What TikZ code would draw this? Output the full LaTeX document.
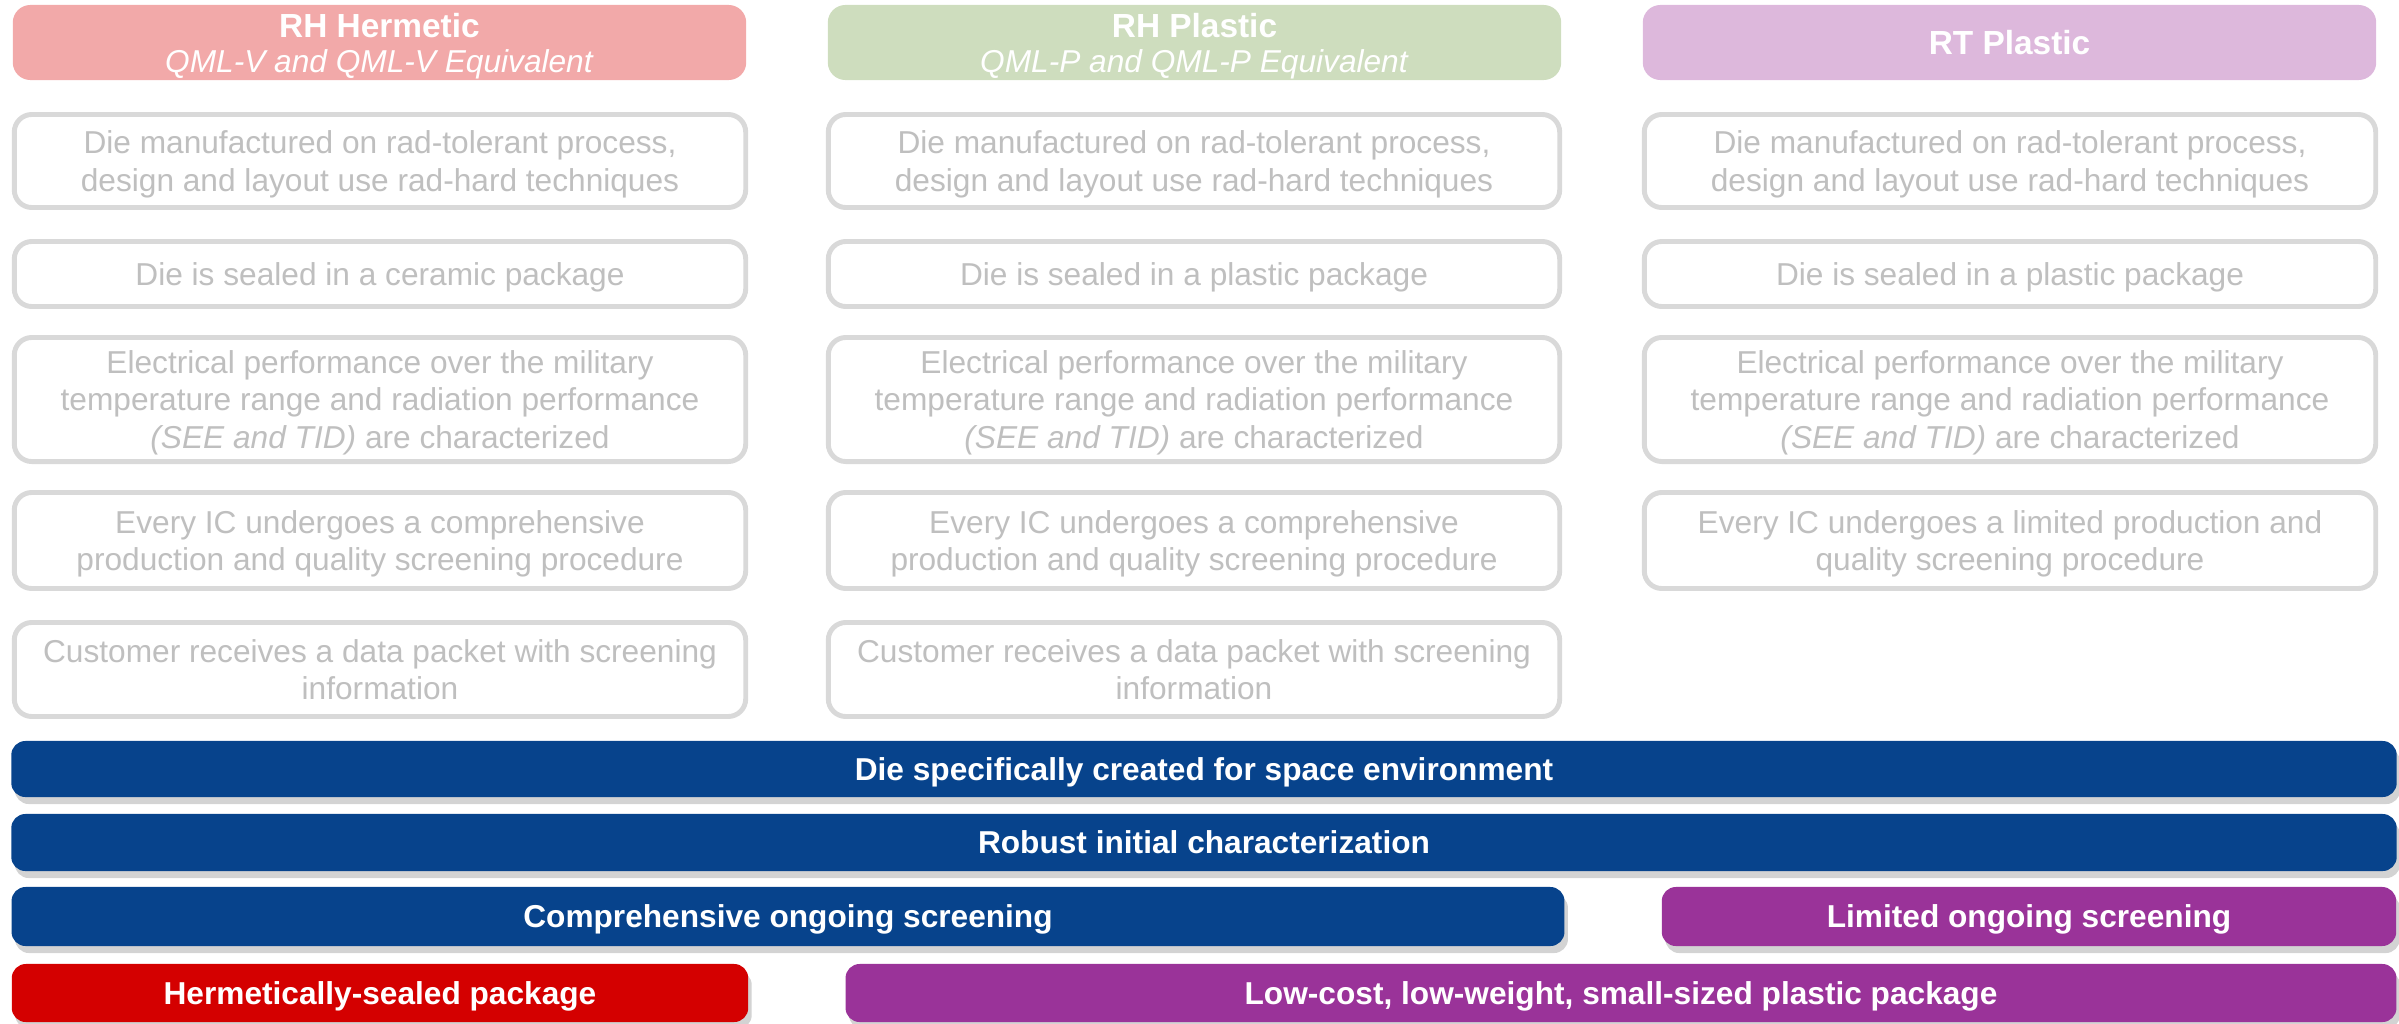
\documentclass[tikz,border=0pt]{standalone}
\usepackage{fontspec}
\setmainfont{Liberation Sans}
\usetikzlibrary{shadows}
\definecolor{hermred}{HTML}{F2A9A9}
\definecolor{plasgreen}{HTML}{CEDDBE}
\definecolor{rtpink}{HTML}{DDB8DC}
\definecolor{boxgray}{HTML}{D9D9D9}
\definecolor{txtgray}{HTML}{BFBFBF}
\definecolor{spaceblue}{HTML}{07438C}
\definecolor{sealred}{HTML}{D40000}
\definecolor{limpurple}{HTML}{9A3399}

\begin{document}
\begin{tikzpicture}[x=0.01cm, y=-0.01cm]
 \tikzstyle{heading}=[rectangle, rounded corners=5pt, text=white, align=center, inner sep=0pt, text depth=0pt, minimum width=7.33cm, minimum height=0.75cm, font=\fontsize{9}{10}\selectfont]
 \tikzstyle{trait}=[rectangle, rounded corners=5pt, draw=boxgray, line width=1.4pt, fill=white, text=txtgray, align=center, inner sep=0pt, text depth=0pt, minimum width=7.31cm, font=\fontsize{9}{10.6}\selectfont]
 \tikzstyle{band}=[rectangle, rounded corners=4pt, text=white, align=center, inner sep=0pt, text height=6.5pt, text depth=0pt, font=\bfseries\fontsize{9}{10}\selectfont, drop shadow={shadow xshift=1pt, shadow yshift=-2pt, opacity=0.35}]
 \useasboundingbox (0, 0) rectangle (2399, 1024);
 %
 \node[heading, fill=hermred] (H1) at (379.5, 42.5) {\textbf{\fontsize{9.5}{11}\selectfont RH Hermetic}\\\textit{QML-V and QML-V Equivalent}};
 \node[heading, fill=plasgreen] (H2) at (1194.5, 42.5) {\textbf{\fontsize{9.5}{11}\selectfont RH Plastic}\\\textit{QML-P and QML-P Equivalent}};
 \node[heading, fill=rtpink] (H3) at (2009.5, 42.5) {\textbf{\fontsize{9.5}{11}\selectfont RT Plastic}};
 %
 \node[trait, minimum height=0.93cm] (D1) at (380, 161) {Die manufactured on rad-tolerant process,\\design and layout use rad-hard techniques};
 \node[trait, minimum height=0.93cm] (D2) at (1194, 161) {Die manufactured on rad-tolerant process,\\design and layout use rad-hard techniques};
 \node[trait, minimum height=0.93cm] (D3) at (2010, 161) {Die manufactured on rad-tolerant process,\\design and layout use rad-hard techniques};
 %
 \node[trait, minimum height=0.65cm] (S1) at (380, 274) {Die is sealed in a ceramic package};
 \node[trait, minimum height=0.65cm] (S2) at (1194, 274) {Die is sealed in a plastic package};
 \node[trait, minimum height=0.65cm] (S3) at (2010, 274) {Die is sealed in a plastic package};
 %
 \node[trait, minimum height=1.24cm] (E1) at (380, 399.5) {Electrical performance over the military\\temperature range and radiation performance\\\textit{(SEE and TID)} are characterized};
 \node[trait, minimum height=1.24cm] (E2) at (1194, 399.5) {Electrical performance over the military\\temperature range and radiation performance\\\textit{(SEE and TID)} are characterized};
 \node[trait, minimum height=1.24cm] (E3) at (2010, 399.5) {Electrical performance over the military\\temperature range and radiation performance\\\textit{(SEE and TID)} are characterized};
 %
 \node[trait, minimum height=0.96cm] (Q1) at (380, 540.5) {Every IC undergoes a comprehensive\\production and quality screening procedure};
 \node[trait, minimum height=0.96cm] (Q2) at (1194, 540.5) {Every IC undergoes a comprehensive\\production and quality screening procedure};
 \node[trait, minimum height=0.96cm] (Q3) at (2010, 540.5) {Every IC undergoes a limited production and\\quality screening procedure};
 %
 \node[trait, minimum height=0.94cm] (C1) at (380, 669.5) {Customer receives a data packet with screening\\information};
 \node[trait, minimum height=0.94cm] (C2) at (1194, 669.5) {Customer receives a data packet with screening\\information};
 %%
 \node[band, fill=spaceblue, minimum width=23.84cm, minimum height=0.56cm] (B1) at (1204, 769) {Die specifically created for space environment};
 \node[band, fill=spaceblue, minimum width=23.84cm, minimum height=0.57cm] (B2) at (1204, 842.5) {Robust initial characterization};
 \node[band, fill=spaceblue, minimum width=15.52cm, minimum height=0.59cm] (B3) at (788, 916.5) {Comprehensive ongoing screening};
 \node[band, fill=limpurple, minimum width=7.34cm, minimum height=0.59cm] (B4) at (2029, 916.5) {Limited ongoing screening};
 \node[band, fill=sealred, minimum width=7.36cm, minimum height=0.58cm] (B5) at (380, 993) {Hermetically-sealed package};
 \node[band, fill=limpurple, minimum width=15.50cm, minimum height=0.58cm] (B6) at (1621, 993) {Low-cost, low-weight, small-sized plastic package};
\end{tikzpicture}
\end{document}
